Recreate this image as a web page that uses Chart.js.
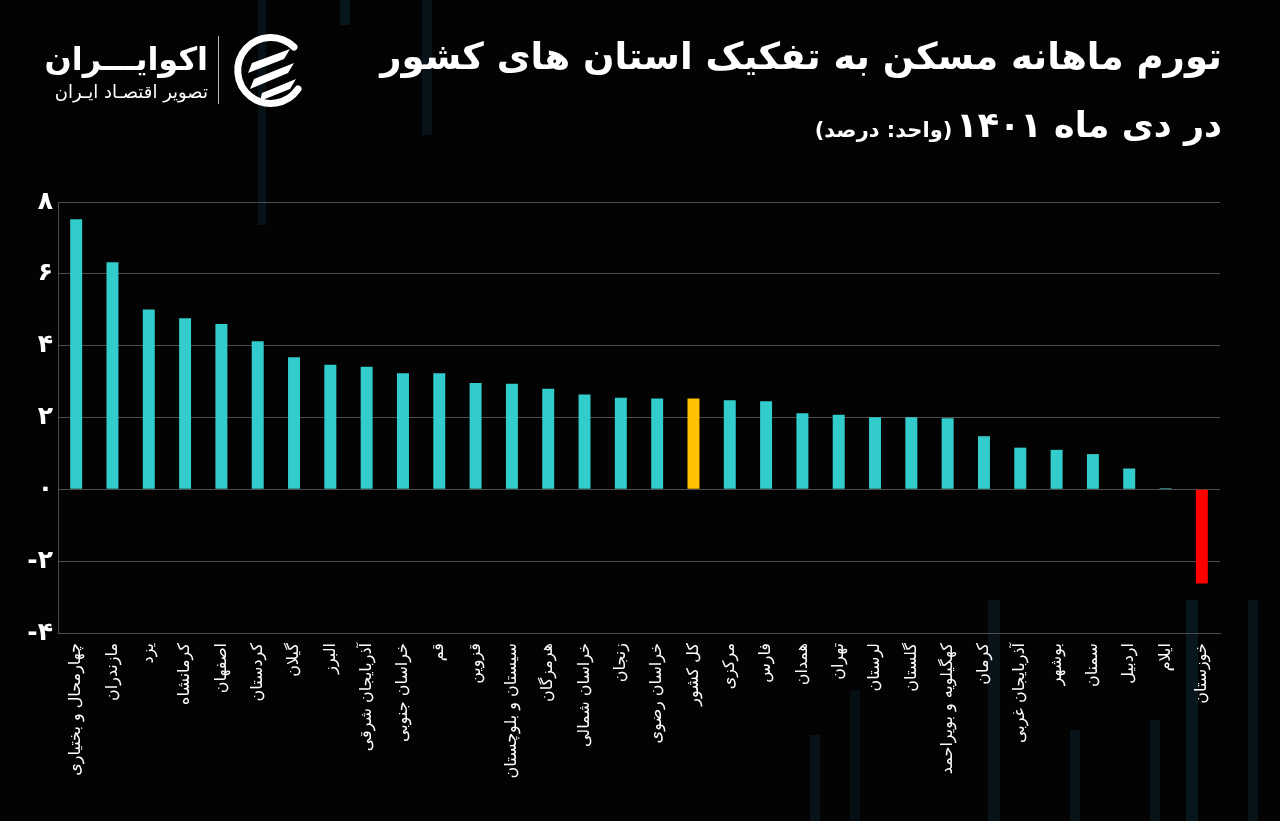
<!DOCTYPE html>
<html lang="fa">
<head>
<meta charset="utf-8">
<script src="https://cdn.jsdelivr.net/npm/chart.js@4.4.1/dist/chart.umd.min.js"></script>
<style>
  html, body { margin: 0; padding: 0; background: #030303; }
  body { width: 1280px; height: 821px; position: relative; overflow: hidden; font-family: "DejaVu Sans", sans-serif; color: #fff; }
  .deco { position: absolute; background: #0b2430; }
  #wrap { position: absolute; left: 0; top: 0; width: 1280px; height: 821px; }
  .t1, .t2 { position: absolute; right: 58px; direction: rtl; white-space: nowrap; font-weight: bold; }
  .t1 { top: 35px; font-size: 37px; }
  .t2 { top: 105px; font-size: 35px; }
  .t2 small { font-size: 21px; font-weight: bold; margin-right: 4px; }
  .brand { position: absolute; right: 1072px; top: 38px; direction: rtl; text-align: right; white-space: nowrap; }
  .brand b { display: block; font-size: 32px; line-height: 42px; }
  .brand span { display: block; font-size: 18px; line-height: 24px; }
  .sep { position: absolute; left: 218px; top: 36px; width: 1px; height: 68px; background: #bbb; }
  .icon { position: absolute; left: 232px; top: 33px; }
</style>
</head>
<body>
<div class="deco" style="left:258px;top:0;width:8px;height:225px;opacity:.5"></div>
<div class="deco" style="left:340px;top:0;width:10px;height:25px;opacity:.6"></div>
<div class="deco" style="left:422px;top:0;width:10px;height:135px;opacity:.5"></div>
<div class="deco" style="left:1186px;top:600px;width:12px;height:221px;opacity:.6"></div>
<div class="deco" style="left:1248px;top:600px;width:10px;height:221px;opacity:.5"></div>
<div class="deco" style="left:988px;top:600px;width:12px;height:221px;opacity:.5"></div>
<div class="deco" style="left:810px;top:735px;width:10px;height:86px;opacity:.5"></div>
<div class="deco" style="left:850px;top:690px;width:10px;height:131px;opacity:.4"></div>
<div class="deco" style="left:1070px;top:730px;width:10px;height:91px;opacity:.5"></div>
<div class="deco" style="left:1150px;top:720px;width:10px;height:101px;opacity:.5"></div>
<div id="wrap"><canvas id="chart" width="1280" height="821"></canvas></div>

<div class="t1">تورم ماهانه مسکن به تفکیک استان های کشور</div>
<div class="t2">در دی ماه ۱۴۰۱<small>(واحد: درصد)</small></div>

<div class="brand"><b>اکوایـــران</b><span>تصویر اقتصـاد ایـران</span></div>
<div class="sep"></div>
<svg class="icon" width="76" height="76" viewBox="0 0 76 76">
  <path d="M62 14 A33 33 0 1 0 66 56" fill="none" stroke="#fff" stroke-width="7" stroke-linecap="round"/>
  <path d="M20 30 L58 16 L52 26 L16 40 Z" fill="#fff"/>
  <path d="M22 46 L62 30 L56 40 L18 56 Z" fill="#fff"/>
  <path d="M30 60 L64 46 L58 56 L28 68 Z" fill="#fff"/>
</svg>

<script>
const provinces = ["چهارمحال و بختیاری", "مازندران", "یزد", "کرمانشاه", "اصفهان", "کردستان", "گیلان", "البرز",
  "آذربایجان شرقی", "خراسان جنوبی", "قم", "قزوین", "سیستان و بلوچستان", "هرمزگان", "خراسان شمالی", "زنجان",
  "خراسان رضوی", "کل کشور", "مرکزی", "فارس", "همدان", "تهران", "لرستان", "گلستان",
  "کهگیلویه و بویراحمد", "کرمان", "آذربایجان غربی", "بوشهر", "سمنان", "اردبیل", "ایلام", "خوزستان"];
const inflation = [7.52, 6.32, 5.01, 4.76, 4.6, 4.12, 3.68, 3.47, 3.41, 3.23, 3.23, 2.96, 2.94, 2.8, 2.64, 2.55,
  2.53, 2.53, 2.48, 2.45, 2.12, 2.08, 2.01, 2.01, 1.98, 1.48, 1.16, 1.1, 0.98, 0.58, 0.03, -2.62];
const yMin = -4, yMax = 8, yStep = 2;
const nationalLabel = "کل کشور";

const faDigits = "۰۱۲۳۴۵۶۷۸۹";
function toFa(n) {
  return String(n).replace(/\d/g, d => faDigits[d]);
}

const barColors = provinces.map((p, i) => {
  if (p === nationalLabel) return "#FFC000";
  if (inflation[i] < 0) return "#FF0000";
  return "#33CCCC";
});

const gridCol = "#4d4d4d";

new Chart(document.getElementById("chart").getContext("2d"), {
  type: "bar",
  data: {
    labels: provinces,
    datasets: [{
      data: inflation,
      backgroundColor: barColors,
      categoryPercentage: 1,
      barPercentage: 0.33
    }]
  },
  options: {
    responsive: false,
    animation: false,
    layout: { padding: { top: 202, right: 60, bottom: 0, left: 0 } },
    plugins: { legend: { display: false }, tooltip: { enabled: false } },
    scales: {
      x: {
        grid: {
          drawTicks: false,
          color: ctx => (ctx.index === 0 || ctx.index === provinces.length) ? gridCol : "rgba(0,0,0,0)"
        },
        border: { color: gridCol },
        ticks: {
          color: "#fff",
          font: { family: "DejaVu Sans", size: 16 },
          minRotation: 90,
          maxRotation: 90,
          autoSkip: false,
          padding: 10
        },
        afterFit: s => { s.height = 188; }
      },
      y: {
        min: yMin,
        max: yMax,
        grid: { color: gridCol, drawTicks: false },
        border: { color: gridCol },
        ticks: {
          stepSize: yStep,
          color: "#fff",
          font: { family: "DejaVu Sans", size: 25, weight: "bold" },
          padding: 5,
          callback: v => v < 0 ? "-" + toFa(-v) : toFa(v)
        },
        afterFit: s => { s.width = 58; }
      }
    }
  }
});
</script>
</body>
</html>
